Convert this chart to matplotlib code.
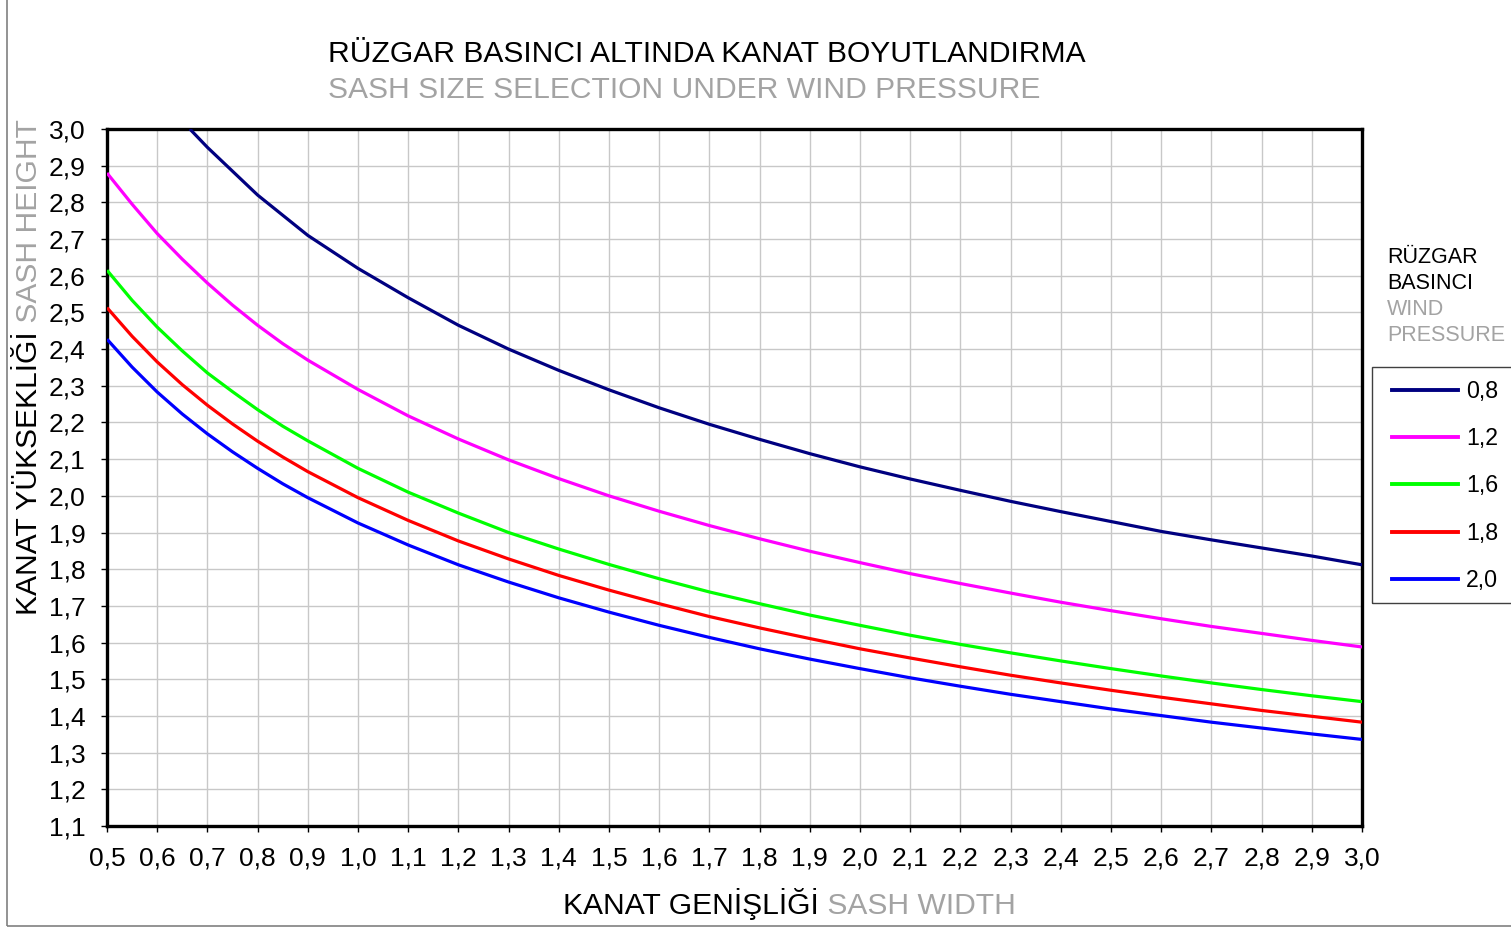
import matplotlib
matplotlib.use('Agg')
import matplotlib.pyplot as plt
from matplotlib.patches import Rectangle
from matplotlib.lines import Line2D

plt.rcParams['font.family'] = ['Liberation Sans', 'DejaVu Sans']

# Sash width values (m) and read-off heights (m) for each wind pressure curve
widths = [0.5, 0.55, 0.6, 0.65, 0.7, 0.75, 0.8, 0.85, 0.9, 1.0, 1.1, 1.2, 1.3, 1.4,
          1.5, 1.6, 1.7, 1.8, 1.9, 2.0, 2.1, 2.2, 2.3, 2.4, 2.5, 2.6, 2.7, 2.8, 2.9, 3.0]

# the 0,8 curve only enters the plot at about 0,665
widths_08 = [0.665, 0.7, 0.75, 0.8, 0.85, 0.9, 1.0, 1.1, 1.2, 1.3, 1.4, 1.5, 1.6, 1.7,
             1.8, 1.9, 2.0, 2.1, 2.2, 2.3, 2.4, 2.5, 2.6, 2.7, 2.8, 2.9, 3.0]
h_08 = [3.00, 2.95, 2.885, 2.82, 2.765, 2.71, 2.62, 2.54, 2.465, 2.40, 2.342, 2.289,
        2.24, 2.195, 2.154, 2.115, 2.079, 2.046, 2.015, 1.985, 1.957, 1.93, 1.903,
        1.88, 1.858, 1.836, 1.812]
h_12 = [2.88, 2.795, 2.715, 2.645, 2.58, 2.52, 2.465, 2.415, 2.37, 2.29, 2.218, 2.155,
        2.098, 2.047, 2.00, 1.958, 1.919, 1.883, 1.849, 1.818, 1.788, 1.761, 1.735,
        1.71, 1.687, 1.665, 1.644, 1.625, 1.606, 1.588]
h_16 = [2.615, 2.533, 2.46, 2.395, 2.335, 2.284, 2.235, 2.19, 2.15, 2.075, 2.01,
        1.953, 1.90, 1.855, 1.813, 1.774, 1.738, 1.706, 1.675, 1.647, 1.62, 1.595,
        1.572, 1.55, 1.529, 1.509, 1.49, 1.472, 1.455, 1.439]
h_18 = [2.513, 2.435, 2.365, 2.303, 2.247, 2.196, 2.149, 2.106, 2.066, 1.995, 1.933,
        1.877, 1.828, 1.783, 1.743, 1.706, 1.671, 1.64, 1.611, 1.583, 1.558, 1.534,
        1.511, 1.49, 1.47, 1.451, 1.433, 1.415, 1.399, 1.383]
h_20 = [2.427, 2.351, 2.283, 2.223, 2.169, 2.12, 2.075, 2.033, 1.995, 1.926, 1.866,
        1.812, 1.765, 1.722, 1.683, 1.647, 1.614, 1.583, 1.555, 1.529, 1.504, 1.481,
        1.459, 1.439, 1.419, 1.401, 1.383, 1.367, 1.351, 1.336]

pressure_labels = ['0,8', '1,2', '1,6', '1,8', '2,0']
colors = ['#000080', '#FF00FF', '#00FF00', '#FF0000', '#0000FF']

x_ticks = [round(0.5 + 0.1 * i, 1) for i in range(26)]
y_ticks = [round(1.1 + 0.1 * i, 1) for i in range(20)]

GRAY = '#A3A3A3'

fig = plt.figure(figsize=(15.11, 9.31), dpi=100)
ax = fig.add_axes([107 / 1511, 1 - 826 / 931, (1362 - 107) / 1511, (826 - 129) / 931])

series = [(widths_08, h_08), (widths, h_12), (widths, h_16), (widths, h_18), (widths, h_20)]
for (xs, ys), c in zip(series, colors):
    ax.plot(xs, ys, color=c, lw=2.3, solid_capstyle='butt', zorder=3)

ax.set_xlim(0.5, 3.0)
ax.set_ylim(1.1, 3.0)
ax.set_xticks(x_ticks)
ax.set_yticks(y_ticks)
ax.set_xticklabels([f'{v:.1f}'.replace('.', ',') for v in x_ticks])
ax.set_yticklabels([f'{v:.1f}'.replace('.', ',') for v in y_ticks])
ax.tick_params(direction='out', length=4, width=1, labelsize=19, colors='black')
ax.tick_params(axis='x', pad=11)
ax.tick_params(axis='y', pad=11.5)
ax.grid(True, color='#C8C8C8', lw=1)
ax.set_axisbelow(True)
for s in ax.spines.values():
    s.set_linewidth(2.4)
    s.set_color('black')

# figure frame
fig.patches.append(Rectangle((7 / 1511, 5 / 931), 1.05, 1.0, transform=fig.transFigure,
                             fill=False, ec='#808080', lw=1.2, clip_on=False))

# title, two lines
fig.text(328 / 1511, 1 - 62 / 931, 'RÜZGAR BASINCI ALTINDA KANAT BOYUTLANDIRMA',
         fontsize=21.6, color='black', va='baseline', ha='left')
fig.text(328 / 1511, 1 - 98 / 931, 'SASH SIZE SELECTION UNDER WIND PRESSURE',
         fontsize=21.6, color=GRAY, va='baseline', ha='left')

# x label in two colours
xl = fig.text(563 / 1511, 1 - 914 / 931, 'KANAT GENİŞLİĞİ', fontsize=21.6,
              color='black', va='baseline', ha='left')
ax.annotate(' SASH WIDTH', xy=(1, 1 - 914 / 931), xycoords=(xl, 'figure fraction'),
            fontsize=21.6, color=GRAY, va='baseline', ha='left', annotation_clip=False)

# y label in two colours
yl = fig.text(37 / 1511, 1 - 615 / 931, 'KANAT YÜKSEKLİĞİ', fontsize=21.6, color='black',
              rotation=90, rotation_mode='anchor', va='baseline', ha='left')
ax.annotate(' SASH HEIGHT', xy=(37 / 1511, 1), xycoords=('figure fraction', yl),
            fontsize=21.6, color=GRAY, rotation=90, rotation_mode='anchor',
            va='baseline', ha='left', annotation_clip=False)

# legend heading
heading = [('RÜZGAR', 'black'), ('BASINCI', 'black'), ('WIND', GRAY), ('PRESSURE', GRAY)]
for i, (txt, c) in enumerate(heading):
    fig.text(1387 / 1511, 1 - (263 + 26 * i) / 931, txt, fontsize=15.5, color=c,
             va='baseline', ha='left')

# legend box (runs off the right edge)
fig.patches.append(Rectangle((1372 / 1511, 1 - 603 / 931), 0.2, (603 - 367) / 931,
                             transform=fig.transFigure, fill=False, ec='#404040',
                             lw=1, clip_on=False))
handles = [Line2D([], [], color=c, lw=2.8) for c in colors]
fig.legend(handles, pressure_labels, loc='upper left',
           bbox_to_anchor=(1385 / 1511, 1 - 373 / 931), frameon=False,
           fontsize=16.7, handlelength=2.85, handletextpad=0.35, labelspacing=1.045,
           borderaxespad=0, borderpad=0.3)

fig.savefig('out.png', dpi=100)
